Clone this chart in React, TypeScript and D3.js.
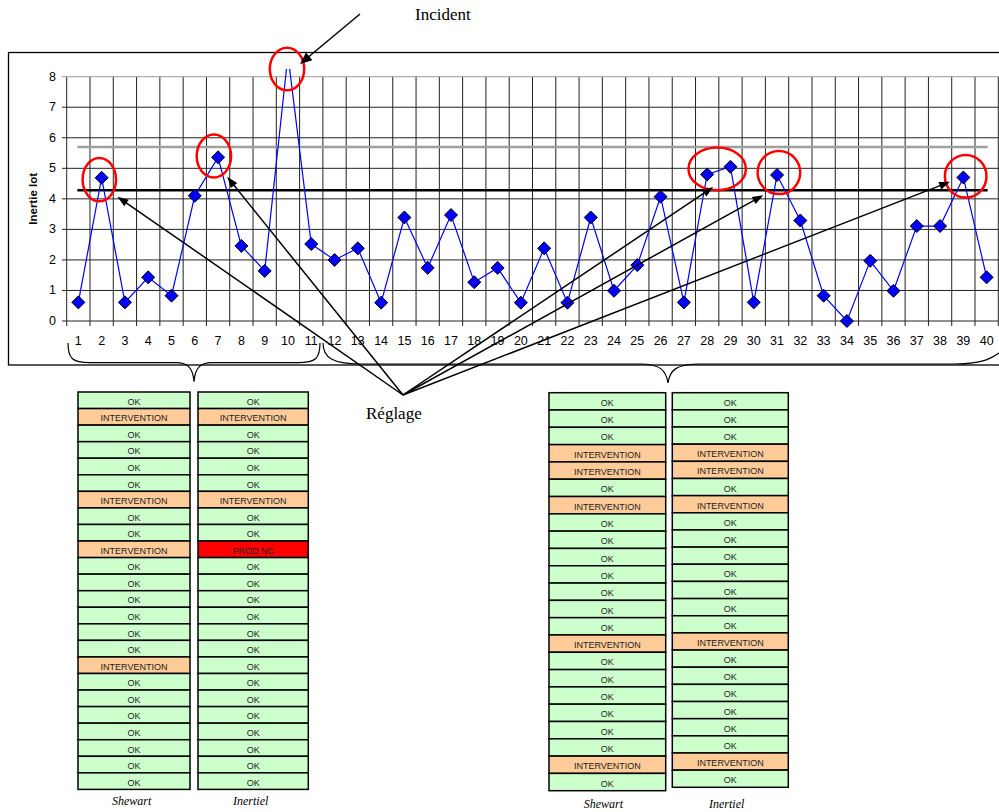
import React from "react";
import * as d3 from "d3";

const categories: number[] = d3.range(1, 41);
const inertie: number[] = [
  0.61, 4.69, 0.61, 1.43, 0.83, 4.1, 5.36, 2.46, 1.64, 8.7,
  2.52, 2.0, 2.38, 0.6, 3.39, 1.74, 3.47, 1.27, 1.74, 0.6,
  2.38, 0.6, 3.39, 0.99, 1.83, 4.07, 0.61, 4.8, 5.05, 0.61,
  4.78, 3.29, 0.83, 0.0, 1.97, 0.99, 3.11, 3.11, 4.7, 1.43,
];
const yTicks: number[] = [0, 1, 2, 3, 4, 5, 6, 7, 8];
const upperLimit = 5.7;
const reglageLimit = 4.28;

// circled points: category position, value centre
const circled = [
  { cat: 1.9, val: 4.63, rx: 16.7, ry: 21.7 },
  { cat: 6.82, val: 5.4, rx: 17.2, ry: 21.5 },
  { cat: 9.96, val: 8.25, rx: 17.2, ry: 21.3 },
  { cat: 28.43, val: 4.98, rx: 28.7, ry: 21.3 },
  { cat: 31.08, val: 4.86, rx: 21.3, ry: 21.5 },
  { cat: 39.1, val: 4.74, rx: 20.8, ry: 21.3 },
];
// Réglage arrow tips (category position, value)
const reglageTips = [
  { cat: 2.68, val: 4.07 },
  { cat: 7.39, val: 4.72 },
  { cat: 28.26, val: 4.39 },
  { cat: 30.41, val: 4.12 },
  { cat: 38.43, val: 4.56 },
];

const leftShewart: string[] = [
  "OK", "INTERVENTION", "OK", "OK", "OK", "OK", "INTERVENTION", "OK", "OK", "INTERVENTION",
  "OK", "OK", "OK", "OK", "OK", "OK", "INTERVENTION", "OK", "OK", "OK", "OK", "OK", "OK", "OK",
];
const leftInertiel: string[] = [
  "OK", "INTERVENTION", "OK", "OK", "OK", "OK", "INTERVENTION", "OK", "OK", "PROD NC",
  "OK", "OK", "OK", "OK", "OK", "OK", "OK", "OK", "OK", "OK", "OK", "OK", "OK", "OK",
];
const rightShewart: string[] = [
  "OK", "OK", "OK", "INTERVENTION", "INTERVENTION", "OK", "INTERVENTION", "OK", "OK", "OK",
  "OK", "OK", "OK", "OK", "INTERVENTION", "OK", "OK", "OK", "OK", "OK", "OK", "INTERVENTION", "OK",
];
const rightInertiel: string[] = [
  "OK", "OK", "OK", "INTERVENTION", "INTERVENTION", "OK", "INTERVENTION", "OK", "OK", "OK",
  "OK", "OK", "OK", "OK", "INTERVENTION", "OK", "OK", "OK", "OK", "OK", "OK", "INTERVENTION", "OK",
];

const fillFor = (s: string) =>
  s === "OK" ? "#CCFFCC" : s === "INTERVENTION" ? "#FFCC99" : "#FF0000";

const W = 999;
const H = 812;

function Table({ rows, x0, x1, y0, y1 }: { rows: string[]; x0: number; x1: number; y0: number; y1: number }) {
  const band = d3.scaleBand<number>().domain(d3.range(rows.length)).range([y0, y1]);
  return (
    <g>
      {rows.map((r, i) => (
        <g key={i}>
          <rect x={x0} y={band(i)!} width={x1 - x0} height={band.bandwidth()} fill={fillFor(r)} stroke="#000" strokeWidth={1.5} />
          <text
            x={(x0 + x1) / 2}
            y={band(i)! + band.bandwidth() / 2 + 1.5}
            textAnchor="middle"
            dominantBaseline="central"
            fontFamily="Arial, 'Liberation Sans', sans-serif"
            fontSize={9}
            fill="#222"
          >
            {r}
          </text>
        </g>
      ))}
    </g>
  );
}

export default function App() {
  const x = d3.scaleBand<number>().domain(categories).range([66.7, 998.3]).padding(0);
  const cx = (c: number) => x(c)! + x.bandwidth() / 2;
  const cxf = (c: number) => 66.7 + (c - 0.5) * x.bandwidth();
  const y = d3.scaleLinear().domain([0, 8]).range([321, 76.7]);

  const line = d3
    .line<number>()
    .x((_, i) => cx(categories[i]))
    .y((d) => y(d));

  const xFirst = cx(categories[0]) - 1;
  const xLast = cx(categories[categories.length - 1]) + 1;

  const diamond = (px: number, py: number, r: number) =>
    `M${px},${py - r}L${px + r},${py}L${px},${py + r}L${px - r},${py}Z`;

  const origin = { x: 403, y: 395 };

  const arrowHead = (fx: number, fy: number, tx: number, ty: number, len = 11, wid = 4) => {
    const a = Math.atan2(ty - fy, tx - fx);
    const bx = tx - len * Math.cos(a);
    const by = ty - len * Math.sin(a);
    const px = -Math.sin(a) * wid;
    const py = Math.cos(a) * wid;
    return `M${tx},${ty}L${bx + px},${by + py}L${bx - px},${by - py}Z`;
  };
  const shorten = (fx: number, fy: number, tx: number, ty: number, d: number) => {
    const a = Math.atan2(ty - fy, tx - fx);
    return { x: tx - d * Math.cos(a), y: ty - d * Math.sin(a) };
  };

  const incFrom = { x: 360, y: 14 };
  const incTo = { x: 300, y: 64 };
  const incEnd = shorten(incFrom.x, incFrom.y, incTo.x, incTo.y, 9);

  return (
    <svg width={W} height={H} style={{ position: "absolute", left: 0, top: 0, background: "#fff" }}>
      <defs>
        <clipPath id="plotclip">
          <rect x={0} y={69} width={W} height={300} />
        </clipPath>
      </defs>
      <rect x={0} y={0} width={W} height={H} fill="#fff" />
      {/* chart frame */}
      <rect x={8.5} y={52.5} width={1000} height={312.5} fill="none" stroke="#000" strokeWidth={1.3} />

      {/* vertical gridlines */}
      {categories.map((c) => (
        <line key={"v" + c} x1={x(c)! + x.bandwidth()} x2={x(c)! + x.bandwidth()} y1={y(8)} y2={y(0) + 5} stroke="#222" strokeWidth={1} />
      ))}
      <line x1={66.7} x2={66.7} y1={y(8)} y2={y(0) + 5} stroke="#222" strokeWidth={1} />
      {/* horizontal gridlines */}
      {yTicks.map((t) => (
        <line key={"h" + t} x1={62} x2={998.3} y1={y(t)} y2={y(t)} stroke={t === 8 ? "#999" : "#222"} strokeWidth={1} />
      ))}
      {yTicks.map((t) => (
        <text key={"yl" + t} x={56} y={y(t)} textAnchor="end" dominantBaseline="central" fontFamily="Arial, 'Liberation Sans', sans-serif" fontSize={12.5} fill="#000">
          {t}
        </text>
      ))}
      {categories.map((c) => (
        <text key={"xl" + c} x={cx(c)} y={340.5} textAnchor="middle" dominantBaseline="central" fontFamily="Arial, 'Liberation Sans', sans-serif" fontSize={12.5} fill="#000">
          {c}
        </text>
      ))}
      <text
        transform={`translate(33,${(y(0) + y(8)) / 2}) rotate(-90)`}
        textAnchor="middle"
        dominantBaseline="central"
        fontFamily="Arial, 'Liberation Sans', sans-serif"
        fontWeight="bold"
        fontSize={11.5}
      >
        Inertie lot
      </text>

      {/* limit lines */}
      <line x1={xFirst} x2={xLast} y1={y(upperLimit)} y2={y(upperLimit)} stroke="#A0A0A0" strokeWidth={2.5} />
      <line x1={xFirst} x2={xLast} y1={y(reglageLimit)} y2={y(reglageLimit)} stroke="#000" strokeWidth={2.5} />

      {/* series */}
      <g clipPath="url(#plotclip)">
        <path d={line(inertie)!} fill="none" stroke="#0000FF" strokeWidth={1.2} />
        {inertie.map((v, i) => (
          <path key={"m" + i} d={diamond(cx(categories[i]), y(v), 6.5)} fill="#0000FF" stroke="#000" strokeWidth={1} />
        ))}
      </g>

      {/* red circles */}
      {circled.map((c, i) => (
        <ellipse key={"e" + i} cx={cxf(c.cat)} cy={y(c.val)} rx={c.rx} ry={c.ry} fill="none" stroke="#FF0000" strokeWidth={2.5} />
      ))}

      {/* Réglage arrows */}
      {reglageTips.map((t, i) => {
        const tx = cxf(t.cat);
        const ty = y(t.val);
        const e = shorten(origin.x, origin.y, tx, ty, 8);
        return (
          <g key={"a" + i}>
            <line x1={origin.x} y1={origin.y} x2={e.x} y2={e.y} stroke="#000" strokeWidth={1.5} />
            <path d={arrowHead(origin.x, origin.y, tx, ty)} fill="#000" />
          </g>
        );
      })}

      {/* Incident arrow */}
      <line x1={incFrom.x} y1={incFrom.y} x2={incEnd.x} y2={incEnd.y} stroke="#000" strokeWidth={1.5} />
      <path d={arrowHead(incFrom.x, incFrom.y, incTo.x, incTo.y, 12, 5)} fill="#000" />
      <text x={415} y={20} fontFamily="'Liberation Serif', 'Times New Roman', serif" fontSize={17}>
        Incident
      </text>
      <text x={366} y={419} fontFamily="'Liberation Serif', 'Times New Roman', serif" fontSize={17}>
        Réglage
      </text>

      {/* braces */}
      <path
        d="M68,343 C68,358 72,362.7 90,362.7 L176,362.7 C188,362.7 193,368 194,381.7 C195,368 200,362.7 212,362.7 L298,362.7 C316,362.7 320,358 320,343"
        fill="none"
        stroke="#000"
        strokeWidth={1.2}
      />
      <path
        d="M323,343 C323,358 333,363.5 360,364 L640,364 C660,364 666,370 668,383 C670,370 676,364 700,364 L955,364 C980,364 995,360 1010,343"
        fill="none"
        stroke="#000"
        strokeWidth={1.2}
      />

      {/* tables */}
      <Table rows={leftShewart} x0={78} x1={190} y0={392} y1={789.4} />
      <Table rows={leftInertiel} x0={198} x1={308.3} y0={392} y1={789.4} />
      <Table rows={rightShewart} x0={549} x1={665.7} y0={392.7} y1={790.7} />
      <Table rows={rightInertiel} x0={672.3} x1={788.3} y0={392.7} y1={787.3} />

      {[
        { t: "Shewart", x: 131.7, y: 801 },
        { t: "Inertiel", x: 250.7, y: 801 },
        { t: "Shewart", x: 603.3, y: 803.5 },
        { t: "Inertiel", x: 726.7, y: 803.5 },
      ].map((l, i) => (
        <text key={"lab" + i} x={l.x} y={l.y} textAnchor="middle" dominantBaseline="central" fontFamily="'Liberation Serif', 'Times New Roman', serif" fontStyle="italic" fontSize={12}>
          {l.t}
        </text>
      ))}
    </svg>
  );
}
